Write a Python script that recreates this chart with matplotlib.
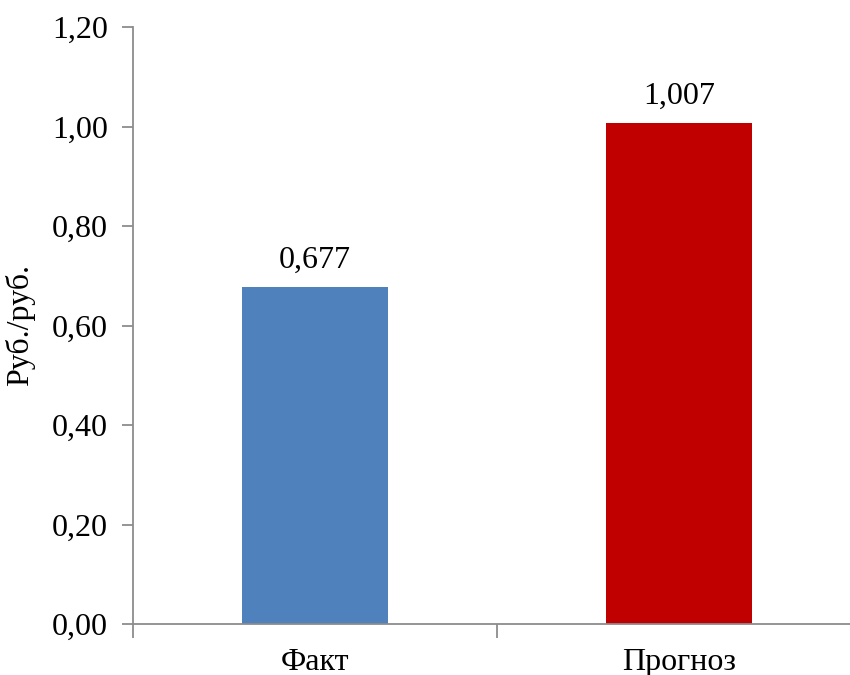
import matplotlib
matplotlib.use("Agg")
import matplotlib.pyplot as plt
from matplotlib.ticker import FixedLocator, FuncFormatter

categories = ["Факт", "Прогноз"]
values = [0.677, 1.007]
colors = ["#4F81BD", "#C00000"]
y_ticks = [0.0, 0.2, 0.4, 0.6, 0.8, 1.0, 1.2]

plt.rcParams["font.family"] = ["Liberation Serif", "DejaVu Serif"]

fig = plt.figure(figsize=(8.5, 6.75), dpi=100)
ax = fig.add_axes([133 / 850, 1 - 624 / 675, (861 - 133) / 850, (624 - 27) / 675])

x = list(range(len(categories)))
ax.bar(x, values, width=0.4, color=colors, zorder=2)

for xi, v in zip(x, values):
    ax.annotate(f"{v:.3f}".replace(".", ","), (xi, v), xytext=(0, 9),
                textcoords="offset points", ha="center", va="bottom", fontsize=23)

ax.set_xlim(-0.5, 1.5)
ax.set_ylim(0, 1.2)

axis_grey = "#8c8c8c"
for side in ("top", "right"):
    ax.spines[side].set_visible(False)
for side in ("left", "bottom"):
    ax.spines[side].set_color(axis_grey)
    ax.spines[side].set_linewidth(1.3)

ax.set_yticks(y_ticks)
ax.yaxis.set_major_formatter(FuncFormatter(lambda v, p: f"{v:.2f}".replace(".", ",")))
ax.tick_params(axis="y", length=8, width=1.3, color=axis_grey, labelsize=23, pad=10)

ax.set_xticks(x)
ax.set_xticklabels(categories)
ax.xaxis.set_minor_locator(FixedLocator([-0.5, 0.5, 1.5]))
ax.tick_params(axis="x", which="major", length=0, labelsize=23, pad=17)
ax.tick_params(axis="x", which="minor", length=10, width=1.3, color=axis_grey)

ax.set_ylabel("Руб./руб.", fontsize=23, labelpad=12)

fig.savefig("out.png", dpi=100)
